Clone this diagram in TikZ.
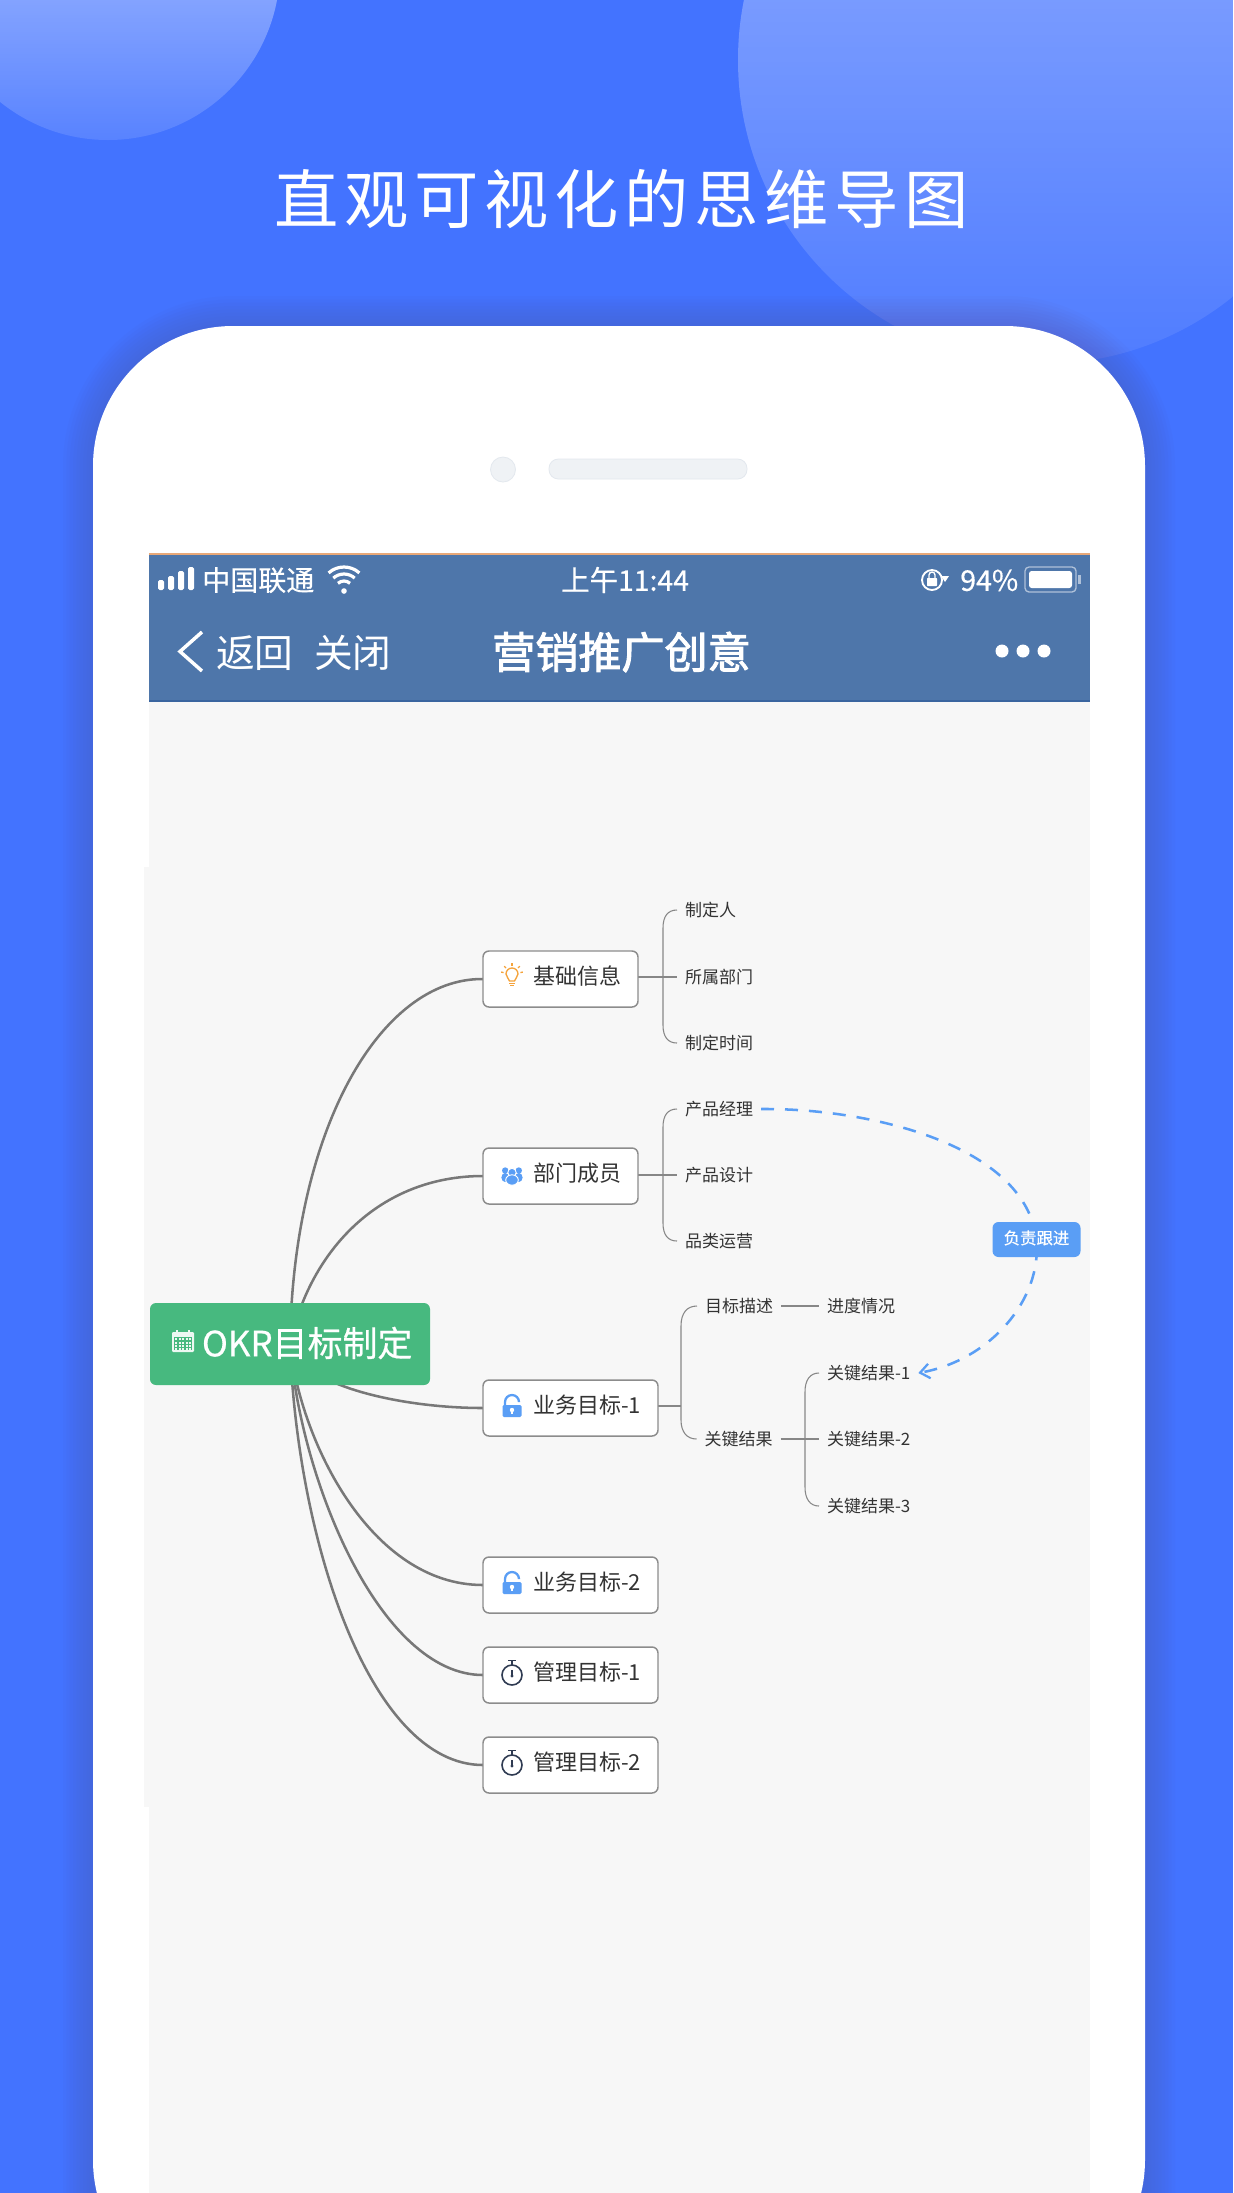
\documentclass[tikz,border=0pt]{standalone}
\usepackage{fontspec}
\setmainfont{Noto Sans CJK SC}
\newfontfamily\titlefont[LetterSpace=9]{Noto Sans CJK SC}
\newfontfamily\medfont[FakeBold=.5]{Noto Sans CJK SC}
\newfontfamily\strongfont[FakeBold=2.2]{Noto Sans CJK SC}
\usetikzlibrary{fadings,arrows.meta}
\pgfdeclarelayer{page}
\pgfdeclarelayer{conn}
\pgfsetlayers{page,conn,main}
\definecolor{bgblue}{HTML}{4373FF}
\definecolor{navblue}{HTML}{4E76AA}
\definecolor{navline}{HTML}{3A659F}
\definecolor{screen}{HTML}{F7F7F7}
\definecolor{okgreen}{HTML}{47B97F}
\definecolor{tagblue}{HTML}{5A9EF5}
\definecolor{orangeic}{HTML}{F5A33B}
\definecolor{watchc}{HTML}{2F3B52}
\definecolor{ink}{HTML}{333333}
\definecolor{topline}{HTML}{E8A878}
\definecolor{camera}{HTML}{EFF2F5}
\definecolor{cameraedge}{HTML}{E3E8EE}
\definecolor{glow}{HTML}{5C55A0}
\tikzfading[name=fadedown,top color=transparent!0,bottom color=transparent!100]
\tikzset{
  tsize/.style={font=\fontsize{#1}{#1}\selectfont,text height={0.88*#1 pt},text depth={0.12*#1 pt}},
  hdr/.style={anchor=west,inner sep=0pt,text=white},
  mapbox/.style={anchor=north west,draw=black!45,line width=1.1pt,rounded corners=4.5pt,fill=white,inner xsep=0pt,inner ysep=0pt,
     outer sep=0pt,minimum height=42pt,align=left,tsize=16.5,text=ink},
  leaf/.style={anchor=west,inner xsep=6pt,inner ysep=0pt,outer sep=0pt,tsize=12.75,text=ink},
  mainline/.style={draw=black!53,line width=1.9pt},
  brc/.style={draw=black!47,line width=.8pt},
  relline/.style={draw=tagblue,line width=1.9pt,dash pattern=on 9.75pt off 8.25pt},
  lockic/.pic={
    \draw[tagblue,line width=1.7pt] (-7,0) -- (-7,-4) arc (180:360:7) -- (7,-4.5);
    \fill[tagblue,rounded corners=1pt] (-9.5,-1) rectangle (9.5,11);
    \fill[white] (0,4) circle (2.2);
    \fill[white] (-1,4) rectangle (1,8);
  },
  watchic/.pic={
    \draw[watchc,line width=1.2pt] (0,0) circle (10);
    \draw[watchc,line width=1.2pt] (-4,-14.5) -- (4,-14.5) (0,-14.5) -- (0,-10);
    \draw[watchc,line width=1.2pt] (0,-5) -- (0,1);
    \fill[watchc] (0,1) circle (1.7);
  },
  bulbic/.pic={
    \draw[orangeic,line width=1pt] (-2.5,5) .. controls (-2.5,2.5) and (-6,1.5) .. (-6,-2) arc (180:360:6) .. controls (6,1.5) and (2.5,2.5) .. (2.5,5) -- cycle;
    \draw[orangeic,line width=1pt] (-3,7.5) -- (3,7.5) (-2,9.5) -- (2,9.5);
    \foreach \a in {-170,-135,-90,-45,-10}{\draw[orangeic,line width=1pt] (0,-2) ++(\a:8.5) -- ++(\a:2.5);}
  },
  peopleic/.pic={
    \fill[tagblue] (-6.8,-4.5) circle (3.2) (6.8,-4.5) circle (3.2);
    \fill[tagblue] (-6.8,2.5) ellipse (3.8 and 4.5) (6.8,2.5) ellipse (3.8 and 4.5);
    \draw[white,line width=.7pt,fill=tagblue] (0,-2.5) circle (4.2);
    \draw[white,line width=.7pt,fill=tagblue] (0,5) ellipse (6.3 and 5.2);
  },
  calic/.pic={
    \fill[white!90!okgreen,rounded corners=.8pt] (-11,-9) rectangle (11,11);
    \fill[okgreen] (-9,-4) rectangle (9,9);
    \foreach \u in {-8,-4.5,-1,2.5,6}{\foreach \v in {-3,0.5,4,7}{\fill[white!90!okgreen] (\u,\v) rectangle ++(2.4,2.2);}}
    \draw[white!90!okgreen,line width=.9pt] (-6,-11) -- (-6,-7) (6,-11) -- (6,-7);
  },
}
\begin{document}
\begin{tikzpicture}[x=.75pt,y=-.75pt]
\useasboundingbox (0,0) rectangle (1233,2193);

\begin{pgfonlayer}{page}
\clip (0,0) rectangle (1233,2193);
\fill[bgblue] (0,0) rectangle (1233,2193);
% decorative circles
\begin{scope}
  \clip (108,-32) circle (172);
  \fill[white,opacity=.46,path fading=fadedown] (0,-70) rectangle (300,210);
\end{scope}
\begin{scope}
  \clip (1042,60) circle (304);
  \fill[white,opacity=.38,path fading=fadedown] (700,-160) rectangle (1233,480);
\end{scope}
% phone shadow
\foreach \w in {5,10,15,20,25,30,35,40,45}{
  \draw[color=glow,opacity=.04,line width=\w pt,rounded corners=105pt]
     (93,2300) -- (93,326) -- (1145,326) -- (1145,2300);
}
% phone body
\fill[white,rounded corners=105pt] (93,2300) -- (93,326) -- (1145,326) -- (1145,2300) -- cycle;
\draw[fill=camera,draw=cameraedge,line width=.6pt] (503,469.5) circle (12.5);
\draw[fill=camera,draw=cameraedge,line width=.6pt,rounded corners=7pt] (549,459) rectangle (747,479);
% screen
\fill[screen] (149,702) rectangle (1090,2193);
\fill[screen!98!white] (144,867) rectangle (1090,1807);
\fill[navblue] (149,555) rectangle (1090,700);
\fill[topline] (149,553) rectangle (1090,555);
\fill[navline] (149,699.5) rectangle (1090,702);
\end{pgfonlayer}

% title
\node[hdr,font=\titlefont\fontsize{48.2}{48.2}\selectfont,text height=42.2pt,text depth=5.8pt] (title) at (274,199) {直观可视化的思维导图};

% status bar
\foreach \bx/\by in {158/580,168/576,178/571,188/567}{
  \fill[white,rounded corners=1.3pt] (\bx,\by) rectangle ++(6,{590-\by});
}
\node[hdr,tsize=21] (carrier) at (202,580) {\medfont 中国联通};
\foreach \r in {9,16,23}{\draw[white,line width=2.4pt] (344,590) ++(-132:\r) arc (-132:-48:\r);}
\fill[white] (344,591) circle (2.8);
\node[hdr,tsize=21.3] (clock) at (561,580) {\medfont 上午11:44};
\draw[white,line width=1.4pt] (932,580) circle (10);
\fill[white,rounded corners=.5pt] (927,578) rectangle (937,586);
\draw[white,line width=1pt] (929,578) -- (929,575) arc (180:360:3) -- (935,578);
\fill[white] (941,576) -- (949,576) -- (945,582) -- cycle;
\node[hdr,tsize=21.4] (batt) at (960,580) {\medfont 94\%};
\draw[white!55!navblue,line width=1pt,rounded corners=3pt] (1025,567) rectangle (1076,592);
\fill[white,rounded corners=2pt] (1029,571) rectangle (1072,588);
\fill[white!55!navblue] (1078,575) rectangle (1081,584);

% navigation bar
\draw[white,line width=2.6pt,line join=miter] (202,632) -- (180,651.5) -- (202,671);
\node[hdr,tsize=29] (back) at (216,653) {返回};
\node[hdr,tsize=29] (close) at (314,653) {关闭};
\node[hdr,tsize=32.3] (navtitle) at (492,652) {\strongfont 营销推广创意};
\foreach \dx in {1002,1023,1044}{\fill[white] (\dx,651) circle (6.5);}

% root
\node[anchor=north west,fill=okgreen,rounded corners=4.5pt,inner xsep=0pt,inner ysep=0pt,outer sep=0pt,
   text width=210pt,minimum height=61.5pt,align=left,text=white,tsize=26.2] (root) at (150,1303)
   {\hspace*{39pt}\raisebox{.7pt}{\medfont OKR目标制定}};
\pic at (183,1341) {calic};

% first level
\newcommand{\boxlabel}[1]{\hspace*{37.5pt}\raisebox{2.4pt}{#1}}
\node[mapbox,text width=116.25pt] (base) at (483,951) {\boxlabel{基础信息}};
\node[mapbox,text width=116.25pt] (team) at (483,1148) {\boxlabel{部门成员}};
\node[mapbox,text width=131.25pt] (biz1) at (483,1380) {\boxlabel{业务目标-1}};
\node[mapbox,text width=131.25pt] (biz2) at (483,1557) {\boxlabel{业务目标-2}};
\node[mapbox,text width=131.25pt] (mgt1) at (483,1647) {\boxlabel{管理目标-1}};
\node[mapbox,text width=131.25pt] (mgt2) at (483,1737) {\boxlabel{管理目标-2}};
\pic at (512,976) {bulbic};
\pic at (512,1175) {peopleic};
\pic at (512,1406) {lockic};
\pic at (512,1583) {lockic};
\pic at (512,1675) {watchic};
\pic at (512,1765) {watchic};

% leaves
\node[leaf] (l1) at (677,910) {制定人};
\node[leaf] (l2) at (677,977) {所属部门};
\node[leaf] (l3) at (677,1043) {制定时间};
\node[leaf] (m1) at (677,1109) {产品经理};
\node[leaf] (m2) at (677,1175) {产品设计};
\node[leaf] (m3) at (677,1241) {品类运营};
\node[leaf] (o1) at (697,1306) {目标描述};
\node[leaf] (o2) at (696.5,1439) {关键结果};
\node[leaf] (p0) at (819,1306) {进度情况};
\node[leaf] (k1) at (819,1373) {关键结果-1};
\node[leaf] (k2) at (819,1439) {关键结果-2};
\node[leaf] (k3) at (819,1506) {关键结果-3};
\node[anchor=center,fill=tagblue,rounded corners=4.5pt,minimum width=66pt,minimum height=26.25pt,inner sep=0pt,outer sep=0pt,
   text=white,font=\fontsize{12.3}{12.3}\selectfont,text height=10.8pt,text depth=1.5pt] (tag) at (1036.5,1239.5) {\raisebox{1.2pt}{\medfont 负责跟进}};

\begin{pgfonlayer}{conn}
% main curves
\draw[mainline] (root.center) .. controls (293,1130) and (380,978) .. (base.west);
\draw[mainline] (root.center) .. controls (310,1250) and (380,1176) .. (team.west);
\draw[mainline] (root.center) .. controls (300,1385) and (400,1408) .. (biz1.west);
\draw[mainline] (root.center) .. controls (300,1440) and (370,1585) .. (biz2.west);
\draw[mainline] (root.center) .. controls (300,1480) and (380,1675) .. (mgt1.west);
\draw[mainline] (root.center) .. controls (297,1540) and (370,1765) .. (mgt2.west);
% braces
\draw[brc] (base.east |- l2.west) -- (l2.west);
\draw[brc] (l1.west) .. controls (668,910) and (663,916) .. (663,928) -- (663,1025) .. controls (663,1037) and (668,1043) .. (l3.west);
\draw[brc] (team.east |- m2.west) -- (m2.west);
\draw[brc] (m1.west) .. controls (668,1109) and (663,1115) .. (663,1127) -- (663,1223) .. controls (663,1235) and (668,1241) .. (m3.west);
\coordinate (j1) at (681,1406);
\draw[brc] (biz1.east |- j1) -- (j1);
\draw[brc] (o1.west) .. controls (687,1306) and (681,1313) .. (681,1326) -- (681,1420) .. controls (681,1432) and (687,1439) .. (o2.west);
\draw[brc] (o1.east) -- (p0.west);
\draw[brc] (o2.east) -- (k2.west);
\draw[brc] (k1.west) .. controls (810,1373) and (805,1380) .. (805,1392) -- (805,1487) .. controls (805,1499) and (810,1506) .. (k3.west);
% relation
\draw[relline,-{Straight Barb[length=7pt,width=11pt,line width=1.7pt]}] (m1.east) .. controls (870,1108) and (1025,1145) .. (tag.center)
   .. controls (1042,1300) and (990,1360) .. (k1.east);
\end{pgfonlayer}
\end{tikzpicture}
\end{document}
